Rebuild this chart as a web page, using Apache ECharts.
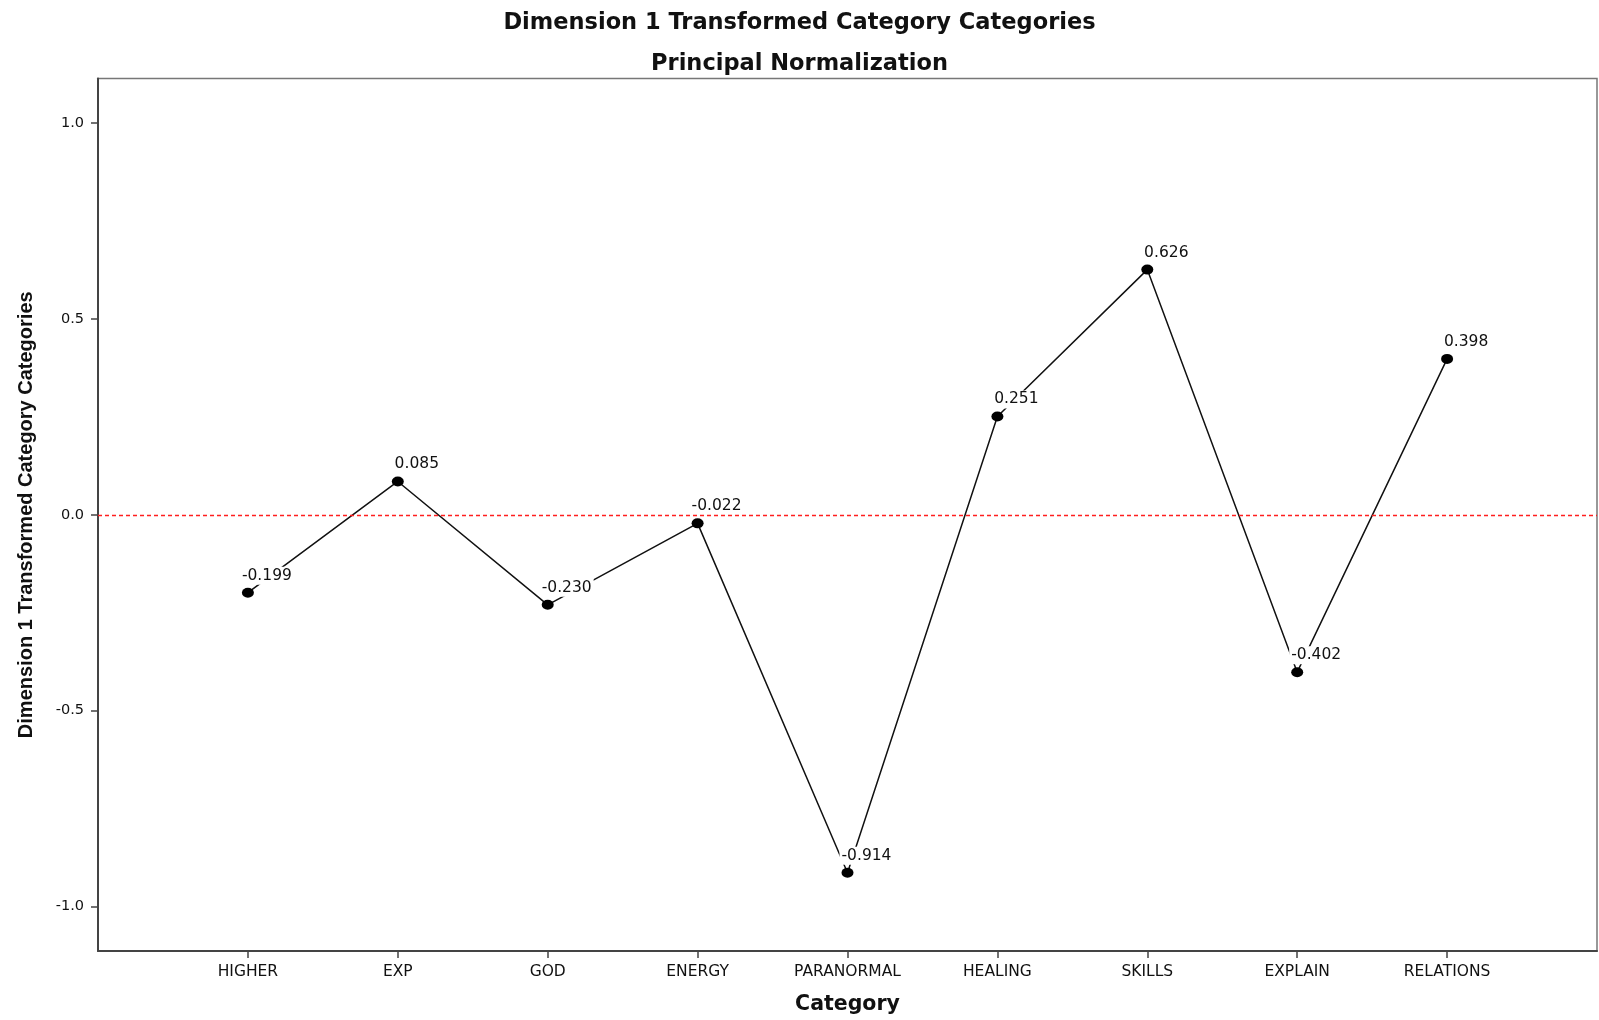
<!DOCTYPE html>
<html>
<head>
<meta charset="utf-8">
<script src="https://cdn.jsdelivr.net/npm/echarts@6/dist/echarts.min.js"></script>
<style>
html,body{margin:0;padding:0;background:#fff;}
#chart{width:1599px;height:1020px;}
</style>
</head>
<body>
<div id="chart"></div>
<script>
const titleText = 'Dimension 1 Transformed Category Categories';
const subtitleText = 'Principal Normalization';
const xAxisTitle = 'Category';
const yAxisTitle = 'Dimension 1 Transformed Category Categories';
const categories = ['HIGHER','EXP','GOD','ENERGY','PARANORMAL','HEALING','SKILLS','EXPLAIN','RELATIONS'];
const values = [-0.199, 0.085, -0.230, -0.022, -0.914, 0.251, 0.626, -0.402, 0.398];
const yTicks = [-1.0, -0.5, 0.0, 0.5, 1.0];
const yMin = -1.114, yMax = 1.114;
const refValue = 0;

const xCats = [' '].concat(categories, ['  ']);
const isReal = (idx) => idx > 0 && idx < xCats.length - 1;
const refStyle = {color: '#ff1f1f', type: [4, 3], width: 1.3, opacity: 1};

const chart = echarts.init(document.getElementById('chart'), null, {renderer: 'canvas'});
chart.setOption({
  animation: false,
  backgroundColor: '#ffffff',
  title: [
    {text: titleText, left: 'center', top: 7,
     textStyle: {fontFamily: 'DejaVu Sans', fontWeight: 'bold', fontSize: 22.5, color: '#111'}},
    {text: subtitleText, left: 'center', top: 48,
     textStyle: {fontFamily: 'DejaVu Sans', fontWeight: 'bold', fontSize: 22.5, color: '#111'}}
  ],
  grid: {left: 98, right: 2, top: 78.5, bottom: 68.5, show: true,
         borderColor: '#777', borderWidth: 1.5, backgroundColor: 'transparent'},
  xAxis: {
    type: 'category',
    data: xCats,
    boundaryGap: false,
    name: xAxisTitle,
    nameLocation: 'middle',
    nameGap: 43,
    nameTextStyle: {fontFamily: 'DejaVu Sans', fontWeight: 'bold', fontSize: 20.5, color: '#111'},
    axisLine: {show: true, onZero: false, lineStyle: {color: '#444', width: 2}},
    axisTick: {show: true, length: 7, interval: (idx) => isReal(idx), lineStyle: {color: '#444', width: 1.5}},
    axisLabel: {show: true, interval: (idx) => isReal(idx), margin: 13,
      fontFamily: 'DejaVu Sans', fontSize: 15.5, color: '#111'},
    splitLine: {show: false}
  },
  yAxis: {
    type: 'value',
    min: yMin,
    max: yMax,
    name: yAxisTitle,
    nameLocation: 'middle',
    nameRotate: 90,
    nameGap: 62,
    nameTextStyle: {fontFamily: 'Liberation Sans', fontWeight: 'bold', fontSize: 20, color: '#111'},
    axisLine: {show: true, onZero: false, lineStyle: {color: '#444', width: 2}},
    axisTick: {show: true, length: 7, customValues: yTicks, lineStyle: {color: '#444', width: 1.5}},
    axisLabel: {show: true, customValues: yTicks, margin: 14,
      formatter: (v) => Number(v).toFixed(1),
      fontFamily: 'DejaVu Sans', fontSize: 14.5, color: '#111'},
    splitLine: {show: false}
  },
  series: [{
    type: 'line',
    data: categories.map((c, i) => [c, values[i]]),
    symbol: 'circle',
    symbolSize: [12, 10],
    itemStyle: {color: '#000'},
    lineStyle: {color: '#111', width: 1.5},
    label: {
      show: true, position: 'top', distance: 3, offset: [19, 0],
      formatter: (p) => p.value[1].toFixed(3),
      fontFamily: 'DejaVu Sans', fontSize: 15.5, color: '#111',
      backgroundColor: '#fff', padding: [1, 2], lineHeight: 16
    },
    markLine: {
      silent: true,
      symbol: ['none', 'none'],
      label: {show: false},
      emphasis: {disabled: true},
      itemStyle: {color: '#ff1f1f'},
      lineStyle: refStyle,
      data: [{yAxis: refValue, lineStyle: refStyle, itemStyle: {color: '#ff1f1f'}}]
    },
    z: 3
  }]
});
</script>
</body>
</html>
